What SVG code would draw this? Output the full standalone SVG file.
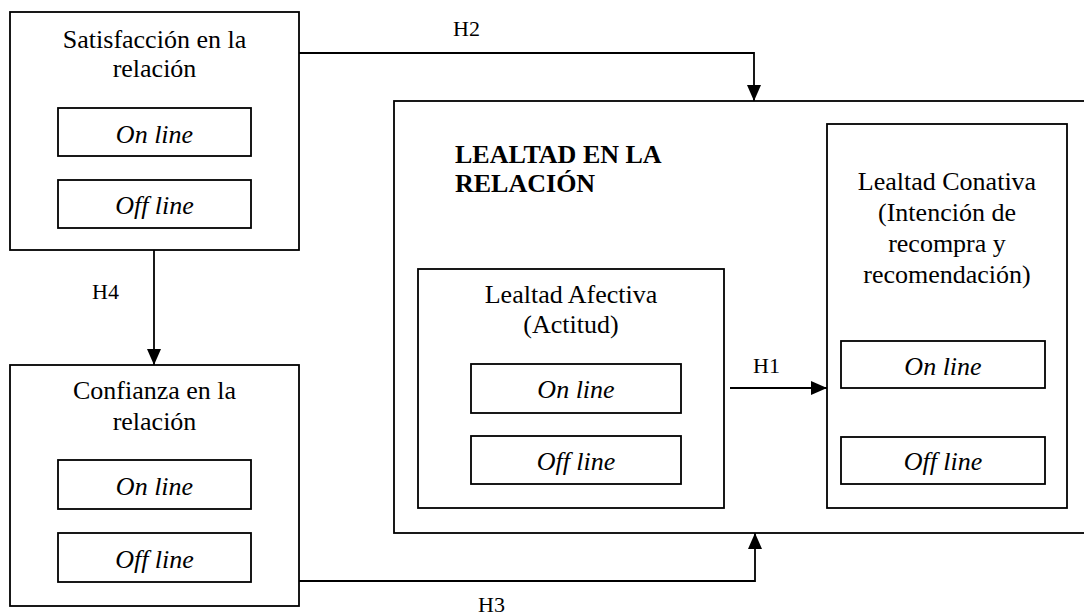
<svg xmlns="http://www.w3.org/2000/svg" width="1084" height="616" viewBox="0 0 1084 616">
<style>
.box{fill:none;stroke:#000;stroke-width:1.8}
.ln{fill:none;stroke:#000;stroke-width:1.8}
.t{font-size:26px;text-anchor:middle}
.i{font-size:26px;font-style:italic;text-anchor:middle}
.b{font-size:26px;font-weight:bold}
.h{font-size:22px}
</style>
<defs>
<marker id="arr" viewBox="0 0 16 14" refX="16" refY="7" markerWidth="16" markerHeight="14" orient="auto" markerUnits="userSpaceOnUse">
<path d="M0,0 L16,7 L0,14 z" fill="#000"/>
</marker>
</defs>
<rect x="0" y="0" width="1084" height="616" fill="#fff"/>
<g font-family="'Liberation Serif', 'Times New Roman', 'DejaVu Serif', serif" fill="#000">
<g id="satisfaccion">
<rect class="box" x="10" y="12" width="289" height="238"/>
<text class="t" x="154.5" y="48">Satisfacción en la</text>
<text class="t" x="154.5" y="77">relación</text>
<rect class="box" x="58" y="108" width="193" height="48"/>
<text class="i" x="154.5" y="143">On line</text>
<rect class="box" x="58" y="180" width="193" height="48"/>
<text class="i" x="154.5" y="214">Off line</text>
</g>
<g id="confianza">
<rect class="box" x="10" y="365" width="289" height="241"/>
<text class="t" x="154.5" y="399">Confianza en la</text>
<text class="t" x="154.5" y="430">relación</text>
<rect class="box" x="58" y="460" width="193" height="49"/>
<text class="i" x="154.5" y="495">On line</text>
<rect class="box" x="58" y="533" width="193" height="49"/>
<text class="i" x="154.5" y="568">Off line</text>
</g>
<g id="lealtad">
<rect class="box" x="394" y="101" width="720" height="432"/>
<text class="b" x="455" y="163">LEALTAD EN LA</text>
<text class="b" x="455" y="192">RELACIÓN</text>
</g>
<g id="afectiva">
<rect class="box" x="418" y="269" width="306" height="239"/>
<text class="t" x="571" y="303">Lealtad Afectiva</text>
<text class="t" x="571" y="333">(Actitud)</text>
<rect class="box" x="471" y="364" width="210" height="49"/>
<text class="i" x="576" y="398">On line</text>
<rect class="box" x="471" y="436" width="210" height="48"/>
<text class="i" x="576" y="470">Off line</text>
</g>
<g id="conativa">
<rect class="box" x="827" y="124" width="240" height="384"/>
<text class="t" x="947" y="190">Lealtad Conativa</text>
<text class="t" x="947" y="221">(Intención de</text>
<text class="t" x="947" y="252">recompra y</text>
<text class="t" x="947" y="283">recomendación)</text>
<rect class="box" x="841" y="341" width="204" height="47"/>
<text class="i" x="943" y="375">On line</text>
<rect class="box" x="841" y="437" width="204" height="47"/>
<text class="i" x="943" y="470">Off line</text>
</g>
<g id="connectors">
<path class="ln" d="M299,53 H754 V101" marker-end="url(#arr)"/>
<path class="ln" d="M154,250 V365" marker-end="url(#arr)"/>
<path class="ln" d="M730,388 H827" marker-end="url(#arr)"/>
<path class="ln" d="M299,581 H755 V533" marker-end="url(#arr)"/>
<text class="h" x="453" y="36">H2</text>
<text class="h" x="92" y="299">H4</text>
<text class="h" x="753" y="373">H1</text>
<text class="h" x="478" y="612">H3</text>
</g>
</g>
</svg>
